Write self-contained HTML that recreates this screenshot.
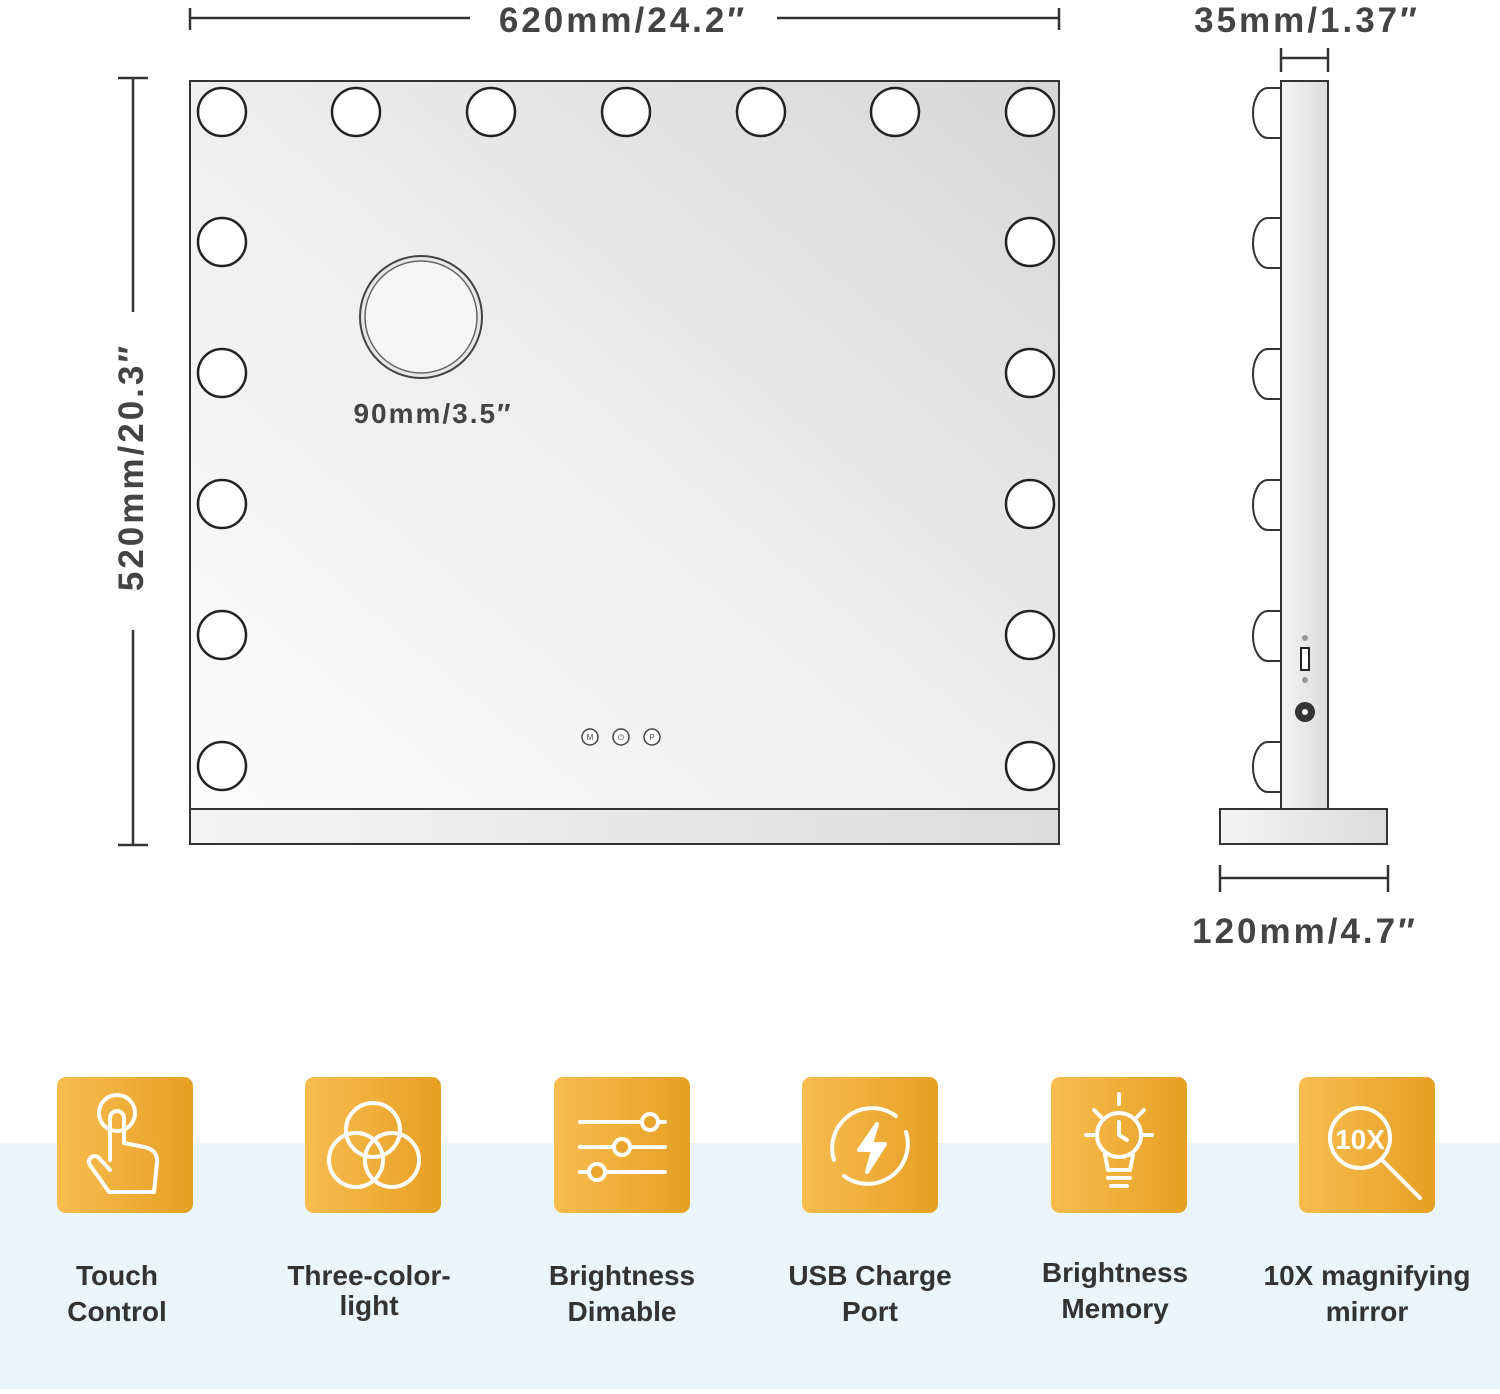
<!DOCTYPE html>
<html><head><style>
body{margin:0;width:1500px;height:1389px;overflow:hidden;background:#fff;font-family:"Liberation Sans",sans-serif}
</style></head><body>
<svg width="1500" height="1389" viewBox="0 0 1500 1389" xmlns="http://www.w3.org/2000/svg">
<defs>
<linearGradient id="mg" x1="0" y1="1" x2="1" y2="0">
<stop offset="0" stop-color="#fcfcfc"/><stop offset="0.5" stop-color="#eeeeee"/><stop offset="1" stop-color="#d6d6d6"/></linearGradient>
<linearGradient id="og" x1="0" y1="0" x2="1" y2="0">
<stop offset="0" stop-color="#f8bd50"/><stop offset="1" stop-color="#e6a024"/></linearGradient>
<linearGradient id="pg" x1="0" y1="0" x2="1" y2="0">
<stop offset="0" stop-color="#f4f4f4"/><stop offset="1" stop-color="#dcdcdc"/></linearGradient>
</defs>
<rect x="0" y="1143" width="1500" height="246" fill="#eaf5fc"/>
<g stroke="#333" stroke-width="2.5" fill="none">
<path d="M190 8V30M1059 8V30M190 18H470M777 18H1059"/>
<path d="M118 78H148M118 845H148M133 78V312M133 630V845"/>
<path d="M1281 48V72M1328 48V72M1281 58H1328"/>
<path d="M1220 865V892M1388 865V892M1220 878H1388"/>
</g>
<rect x="190" y="81" width="869" height="728" fill="url(#mg)" stroke="#333" stroke-width="2"/>
<rect x="190" y="809" width="869" height="35" fill="url(#pg)" stroke="#333" stroke-width="2"/>
<g font-weight="bold" fill="#444" font-size="35" text-anchor="middle" letter-spacing="3">
<text x="623" y="32">620mm/24.2″</text>
<text x="1307" y="32">35mm/1.37″</text>
<text x="1305" y="943">120mm/4.7″</text>
<text x="433" y="423" font-size="28" letter-spacing="2">90mm/3.5″</text>
<text transform="translate(143,467) rotate(-90)">520mm/20.3″</text>
</g>
<g fill="#fff" stroke="#222" stroke-width="2.5">
<circle cx="222" cy="112" r="24"/><circle cx="356" cy="112" r="24"/><circle cx="491" cy="112" r="24"/><circle cx="626" cy="112" r="24"/><circle cx="761" cy="112" r="24"/><circle cx="895" cy="112" r="24"/><circle cx="1030" cy="112" r="24"/>
<circle cx="222" cy="242" r="24"/><circle cx="222" cy="373" r="24"/><circle cx="222" cy="504" r="24"/><circle cx="222" cy="635" r="24"/><circle cx="222" cy="766" r="24"/>
<circle cx="1030" cy="242" r="24"/><circle cx="1030" cy="373" r="24"/><circle cx="1030" cy="504" r="24"/><circle cx="1030" cy="635" r="24"/><circle cx="1030" cy="766" r="24"/>
</g>
<circle cx="421" cy="317" r="61" fill="#e8e8e8" stroke="#444" stroke-width="2"/>
<circle cx="421" cy="317" r="56" fill="#f6f6f6" stroke="#666" stroke-width="1.5"/>
<g fill="#fff" stroke="#444" stroke-width="1.5">
<circle cx="590" cy="737" r="8"/><circle cx="621" cy="737" r="8"/><circle cx="652" cy="737" r="8"/>
</g>
<g font-size="8" fill="#444" text-anchor="middle"><text x="590" y="740">M</text><text x="621" y="740">⏻</text><text x="652" y="740">P</text></g>
<g fill="#fff" stroke="#333" stroke-width="2">
<path d="M1281 88H1268A15 25 0 0 0 1268 138H1281Z"/>
<path d="M1281 218H1268A15 25 0 0 0 1268 268H1281Z"/>
<path d="M1281 349H1268A15 25 0 0 0 1268 399H1281Z"/>
<path d="M1281 480H1268A15 25 0 0 0 1268 530H1281Z"/>
<path d="M1281 611H1268A15 25 0 0 0 1268 661H1281Z"/>
<path d="M1281 742H1268A15 25 0 0 0 1268 792H1281Z"/>
</g>
<rect x="1281" y="81" width="47" height="728" fill="url(#pg)" stroke="#333" stroke-width="2"/>
<rect x="1220" y="809" width="167" height="35" fill="url(#pg)" stroke="#333" stroke-width="2"/>
<circle cx="1305" cy="638" r="3" fill="#999"/><circle cx="1305" cy="680" r="3" fill="#999"/>
<rect x="1301" y="648" width="8" height="22" fill="#fff" stroke="#222" stroke-width="2"/>
<circle cx="1305" cy="712" r="10" fill="#333"/><circle cx="1305" cy="712" r="3" fill="#fff"/>
<g>
<rect x="57" y="1077" width="136" height="136" rx="9" fill="url(#og)"/>
<rect x="305" y="1077" width="136" height="136" rx="9" fill="url(#og)"/>
<rect x="554" y="1077" width="136" height="136" rx="9" fill="url(#og)"/>
<rect x="802" y="1077" width="136" height="136" rx="9" fill="url(#og)"/>
<rect x="1051" y="1077" width="136" height="136" rx="9" fill="url(#og)"/>
<rect x="1299" y="1077" width="136" height="136" rx="9" fill="url(#og)"/>
</g>
<g fill="none" stroke="#fff" stroke-width="4" stroke-linecap="round" stroke-linejoin="round">
<circle cx="117" cy="1113" r="18"/>
<path d="M110 1160V1118a7 7 0 0 1 14 0v25l20 4c10 2 14 8 13 16l-3 29h-45l-19-27c-4-6 4-12 9-7l11 12"/>
<circle cx="373" cy="1130" r="27"/><circle cx="356" cy="1160" r="27"/><circle cx="392" cy="1160" r="27"/>
<path d="M580 1122H665M580 1147H665M580 1172H665"/>
<circle cx="650" cy="1122" r="8" fill="#eaa52c"/><circle cx="622" cy="1147" r="8" fill="#eaa52c"/><circle cx="597" cy="1172" r="8" fill="#eaa52c"/>
<path d="M834 1160a40 40 0 0 1 62-44M906 1132a40 40 0 0 1-62 44"/>
<path d="M877 1124l-18 26h14l-6 22 18-28h-14z" fill="#fff"/>
<circle cx="1119" cy="1135" r="22"/><path d="M1119 1122v13l8 5M1105 1155l3 15h22l3-15M1108 1178h22M1111 1186h16M1119 1094v10M1086 1135h10M1142 1135h10M1094 1110l7 7M1144 1110l-7 7"/>
<circle cx="1360" cy="1138" r="30"/><path d="M1382 1160l38 38"/>
</g>
<text x="1360" y="1149" font-size="28" font-weight="bold" fill="#fff" text-anchor="middle">10X</text>
<g font-size="28" font-weight="bold" fill="#333" text-anchor="middle">
<text x="117" y="1285">Touch</text><text x="117" y="1321">Control</text>
<text x="369" y="1285">Three-color-</text><text x="369" y="1315">light</text>
<text x="622" y="1285">Brightness</text><text x="622" y="1321">Dimable</text>
<text x="870" y="1285">USB Charge</text><text x="870" y="1321">Port</text>
<text x="1115" y="1282">Brightness</text><text x="1115" y="1318">Memory</text>
<text x="1367" y="1285">10X magnifying</text><text x="1367" y="1321">mirror</text>
</g>
</svg>
</body></html>
